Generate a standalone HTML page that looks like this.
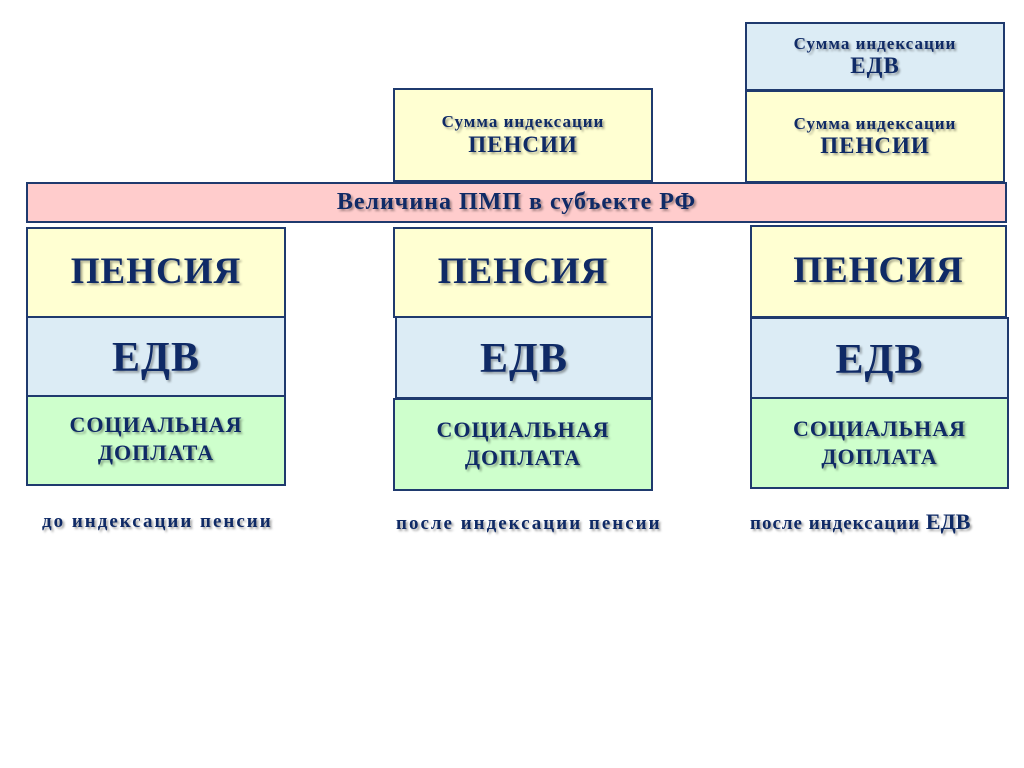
<!DOCTYPE html>
<html><head><meta charset="utf-8"><style>
body{margin:0;width:1024px;height:768px;background:#fff;position:relative;overflow:hidden;font-family:"Liberation Serif","Noto Serif CJK SC",serif;font-weight:bold;color:#0f2a66}
.b{position:absolute;box-sizing:border-box;border:2px solid #1f3a6e;display:flex;flex-direction:column;align-items:center;justify-content:center;text-align:center;text-shadow:2px 2px 2px rgba(0,0,0,.35);line-height:1.1}
.y{background:#ffffd2}.bl{background:#dcecf5}.g{background:#ceffcc}.p{background:#ffcccc}
.L{font-size:37px;letter-spacing:1px}
.E{font-size:42px;letter-spacing:1px;padding-top:4px}
.M{font-size:22px;letter-spacing:1px;line-height:1.25}
.s{font-size:17px;letter-spacing:1px}
.t{font-size:23px;letter-spacing:1px}
.lab{position:absolute;font-size:19px;letter-spacing:2px;text-shadow:2px 2px 2px rgba(0,0,0,.35);white-space:nowrap}
</style></head><body>
<div class="b bl" style="left:745px;top:22px;width:260px;height:69px"><div class="s">Сумма индексации</div><div class="t">ЕДВ</div></div>
<div class="b y" style="left:745px;top:90px;width:260px;height:93px"><div class="s">Сумма индексации</div><div class="t">ПЕНСИИ</div></div>
<div class="b y" style="left:393px;top:88px;width:260px;height:94px"><div class="s">Сумма индексации</div><div class="t">ПЕНСИИ</div></div>
<div class="b p" style="left:26px;top:182px;width:981px;height:41px;font-size:24px;letter-spacing:1px">Величина ПМП в субъекте РФ</div>

<div class="b y L" style="left:26px;top:227px;width:260px;height:91px">ПЕНСИЯ</div>
<div class="b bl E" style="left:26px;top:316px;width:260px;height:81px">ЕДВ</div>
<div class="b g M" style="left:26px;top:395px;width:260px;height:91px;justify-content:flex-start;padding-top:14px">СОЦИАЛЬНАЯ<br>ДОПЛАТА</div>

<div class="b y L" style="left:393px;top:227px;width:260px;height:91px">ПЕНСИЯ</div>
<div class="b bl E" style="left:395px;top:316px;width:258px;height:83px">ЕДВ</div>
<div class="b g M" style="left:393px;top:398px;width:260px;height:93px;justify-content:flex-start;padding-top:16px">СОЦИАЛЬНАЯ<br>ДОПЛАТА</div>

<div class="b y L" style="left:750px;top:225px;width:257px;height:93px">ПЕНСИЯ</div>
<div class="b bl E" style="left:750px;top:317px;width:259px;height:82px">ЕДВ</div>
<div class="b g M" style="left:750px;top:397px;width:259px;height:92px;justify-content:flex-start;padding-top:16px">СОЦИАЛЬНАЯ<br>ДОПЛАТА</div>

<div class="lab" style="left:42px;top:511px">до индексации пенсии</div>
<div class="lab" style="left:396px;top:513px">после индексации пенсии</div>
<div class="lab" style="left:750px;top:509px;letter-spacing:1px">после индексации <span style="font-size:22px;letter-spacing:0">ЕДВ</span></div>
</body></html>
